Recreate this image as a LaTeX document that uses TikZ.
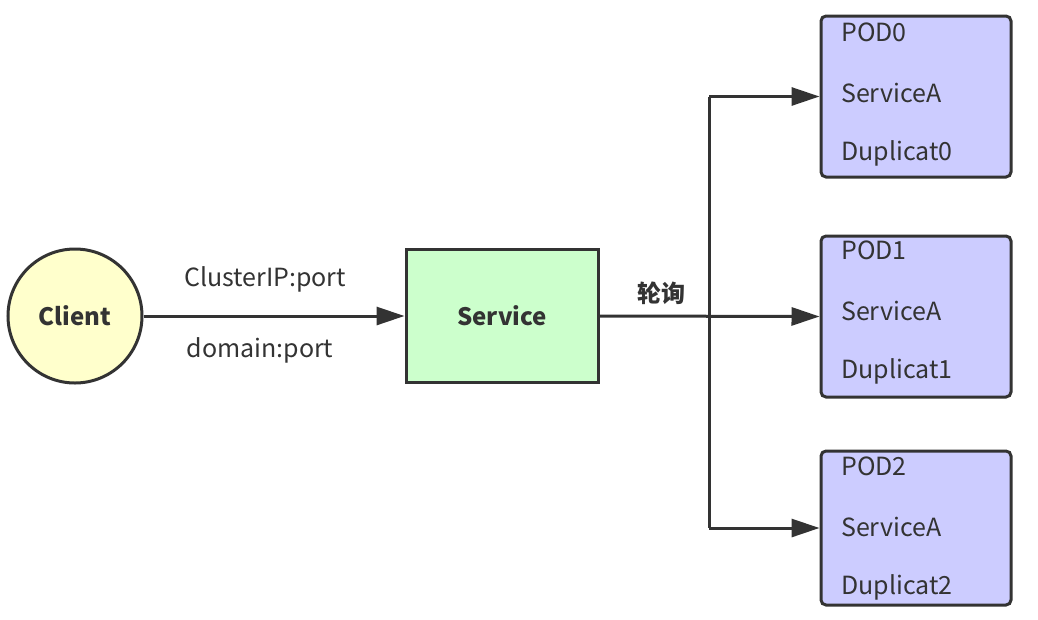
\documentclass[tikz,border=0pt]{standalone}
\usepackage{fontspec}
\setmainfont{Noto Sans CJK SC}
\usetikzlibrary{arrows.meta}
\definecolor{ink}{HTML}{333333}
\definecolor{clientfill}{HTML}{FFFFCC}
\definecolor{svcfill}{HTML}{CCFFCC}
\definecolor{podfill}{HTML}{CCCCFF}
\tikzset{
  conn/.style={draw=ink, line width=3pt, -{Triangle[length=28pt,width=18pt]}},
  plainline/.style={draw=ink, line width=3pt},
  podbox/.style={draw=ink, line width=3pt, fill=podfill, rounded corners=5pt,
    minimum width=190pt, minimum height=161pt, inner sep=0pt},
  podtxt/.style={anchor=west, inner sep=0pt, text=ink, font=\fontsize{25}{29}\selectfont},
  lbl/.style={inner sep=0pt, text=ink, font=\fontsize{25}{29}\selectfont},
}
\begin{document}
\begin{tikzpicture}[x=1pt, y=-1pt]
\useasboundingbox (0,0) rectangle (1038,619);
% client
\node[circle, draw=ink, line width=3pt, fill=clientfill, minimum size=134pt, inner sep=0pt,
  font=\fontsize{24}{28}\selectfont\bfseries, text=ink] (client) at (75,316) {Client};
% service
\node[draw=ink, line width=3pt, fill=svcfill, minimum width=192pt, minimum height=133pt,
  inner sep=0pt, font=\fontsize{24}{28}\selectfont\bfseries, text=ink] (svc) at (502,316) {Service};
% pods
\node[podbox] (pod0) at (916,96.5) {};
\node[podbox] (pod1) at (916,316.5) {};
\node[podbox, minimum height=154pt] (pod2) at (916,528) {};
% pod texts
\node[podtxt] (p0a) at (841,32) {POD0};
\node[podtxt] (p0b) at (841,93) {ServiceA};
\node[podtxt] (p0c) at (841,153) {Duplicat0};
\node[podtxt] (p1a) at (841,250) {POD1};
\node[podtxt] (p1b) at (841,311) {ServiceA};
\node[podtxt] (p1c) at (841,371) {Duplicat1};
\node[podtxt] (p2a) at (841,466) {POD2};
\node[podtxt] (p2b) at (841,527) {ServiceA};
\node[podtxt] (p2c) at (841,587) {Duplicat2};
% labels
\node[lbl] (l1) at (265,279) {ClusterIP:port};
\node[lbl] (l2) at (260,350) {domain:port};
\node[lbl, font=\fontsize{24}{28}\selectfont\bfseries] (l3) at (661,293) {轮询};
% connectors
\coordinate (j) at (709,316);
\draw[conn] (client.east) -- (svc.west);
\draw[conn] (svc.east) -- (pod1.west);
\draw[plainline] (j |- pod0.west) -- (j |- pod2.west);
\draw[conn] (j |- pod0.west) -- (pod0.west);
\draw[conn] (j |- pod2.west) -- (pod2.west);
\end{tikzpicture}
\end{document}
